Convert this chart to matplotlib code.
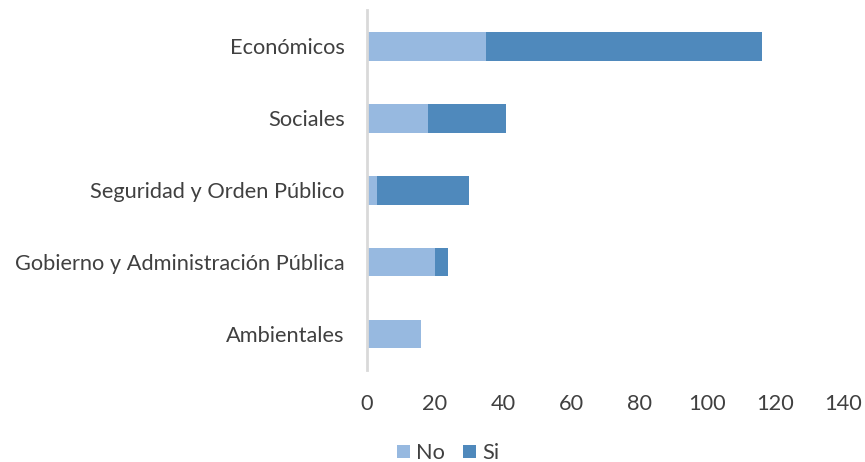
import matplotlib.pyplot as plt

# data
categories = ["Ambientales", "Gobierno y Administración Pública",
              "Seguridad y Orden Público", "Sociales", "Económicos"]
no_vals = [16, 20, 3, 18, 35]
si_vals = [0, 4, 27, 23, 81]
xticks = [0, 20, 40, 60, 80, 100, 120, 140]

plt.rcParams['font.family'] = ['Lato', 'DejaVu Sans']
text_color = "#404040"

fig = plt.figure(figsize=(8.65, 4.62), dpi=100)
ax = fig.add_axes([0.424, 0.199, 0.551, 0.779])

ypos = range(len(categories))
ax.barh(ypos, no_vals, height=0.4, color="#97B9E0", label="No")
ax.barh(ypos, si_vals, left=no_vals, height=0.4, color="#4F89BC", label="Si")

ax.set_xlim(0, 140)
ax.set_ylim(-0.5, len(categories) - 0.5)
ax.set_xticks(xticks)
ax.set_yticks(list(ypos))
ax.set_yticklabels(categories)
ax.tick_params(axis="both", length=0, labelsize=15.7, colors=text_color)
ax.tick_params(axis="x", pad=17)
ax.tick_params(axis="y", pad=16)

for s in ["top", "right", "bottom"]:
    ax.spines[s].set_visible(False)
ax.spines["left"].set_color("#D9D9D9")
ax.spines["left"].set_linewidth(2)

leg = fig.legend(loc="lower center", bbox_to_anchor=(0.518, -0.045), ncol=2,
                 frameon=False, fontsize=15.7, handlelength=0.6, handleheight=0.6,
                 handletextpad=0.3, columnspacing=0.8)
for t in leg.get_texts():
    t.set_color(text_color)

fig.savefig("out.png", dpi=100)
